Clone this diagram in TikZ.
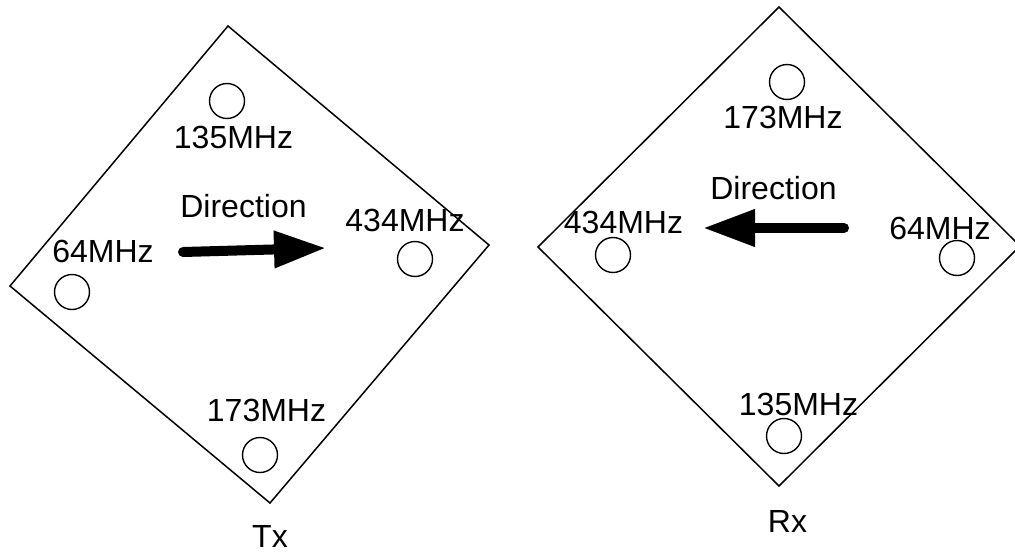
\documentclass[tikz,border=0pt]{standalone}
\usepackage{fontspec}
\setmainfont{Liberation Sans}
\usetikzlibrary{arrows.meta}

\begin{document}
\begin{tikzpicture}[x=0.5pt, y=-0.5pt,
  board/.style={draw=black, line width=0.75pt, line join=miter},
  hole/.style={draw=black, circle, line width=0.7pt, minimum size=17.5pt, inner sep=0pt},
  freq/.style={font=\fontsize{16}{19}\selectfont, anchor=base, inner sep=0pt},
  dirarrow/.style={line width=5pt, line cap=round, -{Triangle[length=26pt, width=17.5pt]}}]

\useasboundingbox (0,0) rectangle (1015,551);

\begin{scope}
  \coordinate (txT) at (228,26);  \coordinate (txR) at (489,245);
  \coordinate (txB) at (270,503); \coordinate (txL) at (10,286);
  \draw[board] (txT) -- (txR) -- (txB) -- (txL) -- cycle;
  \node[hole] (tx135) at (227,101) {};
  \node[hole] (tx434) at (415,259) {};
  \node[hole] (tx64)  at (72,292)  {};
  \node[hole] (tx173) at (260,455) {};
  \node[freq] (tx135l) at (233.5,148) {135MHz};
  \node[freq] (tx434l) at (405,231)   {434MHz};
  \node[freq] (tx64l)  at (103,262)   {64MHz};
  \node[freq] (tx173l) at (266.5,421) {173MHz};
  \node[freq] (txdir)  at (243.5,217) {Direction};
  \node[freq] (txname) at (270,547)   {Tx};
  \coordinate (txA) at (183,252); \coordinate (txZ) at (326,248);
  \draw[dirarrow] (txA) -- (txZ);
\end{scope}

\begin{scope}
  \coordinate (rxT) at (779,7);    \coordinate (rxR) at (1020,246);
  \coordinate (rxB) at (779,486);  \coordinate (rxL) at (538,247);
  \draw[board] (rxT) -- (rxR) -- (rxB) -- (rxL) -- cycle;
  \node[hole] (rx173) at (787,82)  {};
  \node[hole] (rx434) at (613,255) {};
  \node[hole] (rx64)  at (957,258) {};
  \node[hole] (rx135) at (784,436) {};
  \node[freq] (rx173l) at (783,128)   {173MHz};
  \node[freq] (rx434l) at (623.5,233) {434MHz};
  \node[freq] (rx64l)  at (940,239)   {64MHz};
  \node[freq] (rx135l) at (798.5,415) {135MHz};
  \node[freq] (rxdir)  at (773.5,199) {Direction};
  \node[freq] (rxname) at (787.5,532) {Rx};
  \coordinate (rxA) at (844,228); \coordinate (rxZ) at (703,228);
  \draw[dirarrow] (rxA) -- (rxZ);
\end{scope}

\end{tikzpicture}
\end{document}
